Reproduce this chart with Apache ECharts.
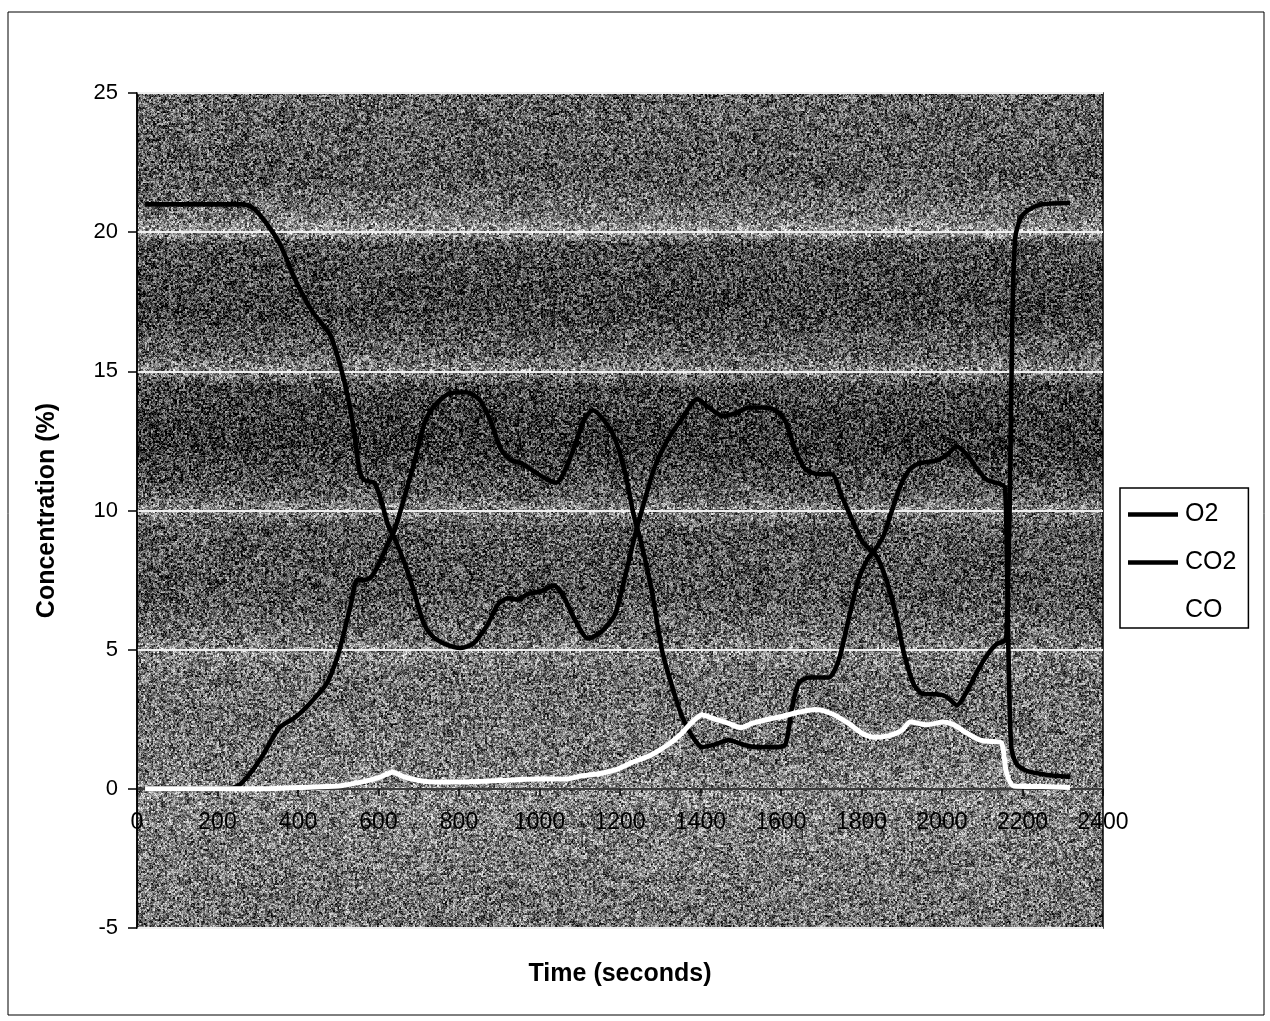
<!DOCTYPE html>
<html>
<head>
<meta charset="utf-8">
<script src="https://cdn.jsdelivr.net/npm/echarts@6/dist/echarts.min.js"></script>
<style>
html,body{margin:0;padding:0;background:#fff;}
#chart{width:1270px;height:1021px;}
</style>
</head>
<body>
<div id="chart"></div>
<script>
// ---- data ----
const seriesNames = ['O2', 'CO2', 'CO'];
const xTicks = [0,200,400,600,800,1000,1200,1400,1600,1800,2000,2200,2400];
const yTicks = [-5,0,5,10,15,20,25];

const o2Time = [20,100,200,260,285,312,354,396,438,480,505,522,539,552,564,589,606,623,640,665,690,711,733,766,804,837,871,896,921,946,971,1004,1037,1062,1087,1121,1154,1187,1212,1237,1262,1287,1321,1354,1392,1421,1454,1487,1520,1553,1586,1611,1635,1660,1693,1726,1751,1776,1801,1820,1840,1864,1888,1905,1930,1955,1988,2012,2037,2062,2087,2112,2136,2153,2160,2168,2175,2182,2195,2215,2250,2318];
const o2Values = [21,21,21,21,20.9,20.5,19.6,18.2,17.1,16.3,15.2,14.2,12.9,11.5,11.1,11.0,10.4,9.5,9.0,8.1,7.0,6.0,5.5,5.2,5.06,5.24,5.9,6.6,6.85,6.8,7.0,7.1,7.3,6.85,6.1,5.4,5.65,6.25,7.6,9.1,10.4,11.6,12.6,13.3,14.0,13.7,13.4,13.5,13.7,13.7,13.6,13.2,12.2,11.5,11.3,11.3,10.5,9.7,8.9,8.6,8.3,7.4,6.1,4.9,3.75,3.4,3.4,3.3,3.0,3.5,4.2,4.8,5.2,5.3,5.5,10,17,19.8,20.5,20.8,21.0,21.05];

const co2Time = [20,100,200,250,278,312,354,396,438,472,497,514,531,547,564,581,598,623,640,665,690,716,741,775,817,850,879,904,929,954,987,1021,1042,1062,1087,1112,1133,1162,1187,1212,1233,1254,1279,1304,1329,1354,1379,1404,1437,1470,1503,1536,1586,1611,1627,1644,1669,1718,1743,1768,1792,1817,1834,1855,1880,1897,1921,1946,1988,2012,2037,2062,2087,2112,2145,2157,2165,2172,2185,2210,2240,2280,2318];
const co2Values = [0,0,0,0.1,0.5,1.2,2.2,2.6,3.2,3.8,4.7,5.6,6.6,7.5,7.5,7.6,8.0,8.8,9.3,10.5,11.8,13.2,13.8,14.2,14.25,14.0,13.2,12.2,11.8,11.7,11.4,11.1,11.0,11.4,12.3,13.3,13.6,13.2,12.6,11.4,9.9,8.75,7.1,5.0,3.7,2.6,1.9,1.5,1.6,1.75,1.6,1.5,1.5,1.6,2.9,3.8,4.0,4.0,4.6,6.1,7.5,8.3,8.6,9.1,10.2,10.9,11.5,11.7,11.8,12.0,12.3,12.0,11.5,11.1,10.95,10.8,5,1.5,0.9,0.65,0.55,0.47,0.43];

const coTime = [20,200,300,400,500,560,600,636,660,700,735,800,900,1000,1067,1100,1150,1192,1230,1275,1321,1354,1379,1404,1437,1470,1500,1528,1569,1602,1644,1685,1726,1768,1801,1834,1867,1900,1921,1963,2004,2029,2062,2095,2128,2148,2160,2178,2250,2318];
const coValues = [0,0,0,0.05,0.1,0.25,0.4,0.6,0.45,0.3,0.25,0.25,0.3,0.35,0.35,0.45,0.55,0.7,0.95,1.2,1.6,2.0,2.4,2.65,2.5,2.35,2.2,2.35,2.5,2.6,2.75,2.85,2.7,2.35,2.0,1.85,1.9,2.1,2.4,2.3,2.4,2.3,2.0,1.75,1.7,1.65,0.6,0.1,0.08,0.05];

function pairs(t, v){ return t.map((x,i)=>[x, v[i]]); }

const FONT = '"Liberation Sans", Arial, sans-serif';
const chart = echarts.init(document.getElementById('chart'), null, {renderer:'canvas'});

// tone profile of the scanned plot background (fraction from top -> grey level)
const toneStops = [
  [0.00,100],[0.10,88],[0.150,120],[0.166,160],[0.18,80],[0.26,64],[0.315,100],[0.333,135],
  [0.35,72],[0.42,52],[0.48,92],[0.50,135],[0.52,88],[0.60,82],[0.65,112],[0.667,135],
  [0.70,110],[0.80,120],[0.833,135],[0.90,124],[1.00,112]
];
function toneAt(f){
  for (let i=1;i<toneStops.length;i++){
    if (f<=toneStops[i][0]){
      const a=toneStops[i-1], b=toneStops[i];
      const k=(f-a[0])/(b[0]-a[0]);
      return a[1]+(b[1]-a[1])*k;
    }
  }
  return toneStops[toneStops.length-1][1];
}
function hash(x,y){
  let n = Math.imul(x,374761393) ^ Math.imul(y,668265263);
  n = Math.imul(n ^ (n>>>13), 1274126177);
  n = n ^ (n>>>16);
  return (n>>>0)/4294967296;
}
function makeTexture(w,h){
  const c=document.createElement('canvas'); c.width=w; c.height=h;
  const ctx=c.getContext('2d'); const img=ctx.createImageData(w,h); const d=img.data;
  for (let y=0;y<h;y++){
    const t=toneAt(y/h);
    for (let x=0;x<w;x++){
      const r=0.55*hash(x>>1,(y>>1)+7919)+0.45*hash(x,y);
      let v=t+(r-0.5)*260;
      v=v<0?0:(v>255?255:v);
      const i=(y*w+x)*4; d[i]=d[i+1]=d[i+2]=v; d[i+3]=255;
    }
  }
  ctx.putImageData(img,0,0);
  return c;
}

const option = {
  backgroundColor:'#ffffff',
  animation:false,
  grid:{left:137, top:93, right:167, bottom:93, show:true, backgroundColor:'transparent',
        borderColor:'#000', borderWidth:1.5, outerBoundsMode:'none', containLabel:false},
  xAxis:{
    type:'value', min:xTicks[0], max:xTicks[xTicks.length-1], interval:200,
    position:'bottom', offset:-139,
    axisLine:{show:true, onZero:false, lineStyle:{color:'#000', width:1.5}},
    axisTick:{show:true, length:7, lineStyle:{color:'#000', width:1.5}},
    axisLabel:{color:'#000', fontSize:23, fontFamily:FONT, margin:22, formatter:(v)=>String(v)},
    splitLine:{show:false},
    name:'Time (seconds)', nameLocation:'middle', nameGap:173,
    nameTextStyle:{color:'#000', fontSize:25, fontWeight:'bold', fontFamily:FONT}
  },
  yAxis:{
    type:'value', min:yTicks[0], max:yTicks[yTicks.length-1], interval:5,
    axisLine:{show:true, lineStyle:{color:'#000', width:1.5}},
    axisTick:{show:true, length:9, lineStyle:{color:'#000', width:1.5}},
    axisLabel:{color:'#000', fontSize:22, fontFamily:FONT, margin:19, formatter:(v)=>String(v)},
    splitLine:{show:true, lineStyle:{color:'#efefef', width:2}},
    name:'Concentration (%)', nameLocation:'middle', nameGap:77,
    nameTextStyle:{color:'#000', fontSize:25, fontWeight:'bold', fontFamily:FONT}
  },
  legend:{
    orient:'vertical', left:1120, top:488,
    backgroundColor:'#fff', borderColor:'#000', borderWidth:1.5,
    padding:[14,12,5,8], itemGap:23, itemWidth:50, itemHeight:14,
    icon:'path://M0,5.5 L50,5.5 L50,10 L0,10 Z',
    textStyle:{color:'#000', fontSize:25, fontFamily:FONT, padding:[0,0,0,2]},
    data:[
      {name:seriesNames[0], itemStyle:{color:'#000'}},
      {name:seriesNames[1], itemStyle:{color:'#000'}},
      {name:seriesNames[2], itemStyle:{color:'#fff'}}
    ]
  },
  series:[
    {name:seriesNames[0], type:'line', data:pairs(o2Time,o2Values), showSymbol:false, smooth:0.25,
     lineStyle:{color:'#000', width:4.6}, itemStyle:{color:'#000'}, z:3},
    {name:seriesNames[1], type:'line', data:pairs(co2Time,co2Values), showSymbol:false, smooth:0.25,
     lineStyle:{color:'#000', width:4.6}, itemStyle:{color:'#000'}, z:3},
    {name:seriesNames[2], type:'line', data:pairs(coTime,coValues), showSymbol:false, smooth:0.25,
     lineStyle:{color:'#fff', width:5}, itemStyle:{color:'#fff'}, z:4}
  ]
};
chart.setOption(option);

// textured background placed exactly on the plot area reported by the axes
const px0 = chart.convertToPixel({xAxisIndex:0}, xTicks[0]);
const px1 = chart.convertToPixel({xAxisIndex:0}, xTicks[xTicks.length-1]);
const py0 = chart.convertToPixel({yAxisIndex:0}, yTicks[yTicks.length-1]);
const py1 = chart.convertToPixel({yAxisIndex:0}, yTicks[0]);
const tw = Math.round(px1-px0), th = Math.round(py1-py0);
const tex = makeTexture(tw, th);
chart.setOption({
  graphic:[
    {type:'image', x:px0, y:py0, z:-10, silent:true, style:{image:tex, width:tw, height:th}},
    {type:'rect', x:8, y:12, z:-5, silent:true, shape:{width:1256, height:1003}, style:{fill:null, stroke:'#000', lineWidth:1}}
  ]
});
</script>
</body>
</html>
